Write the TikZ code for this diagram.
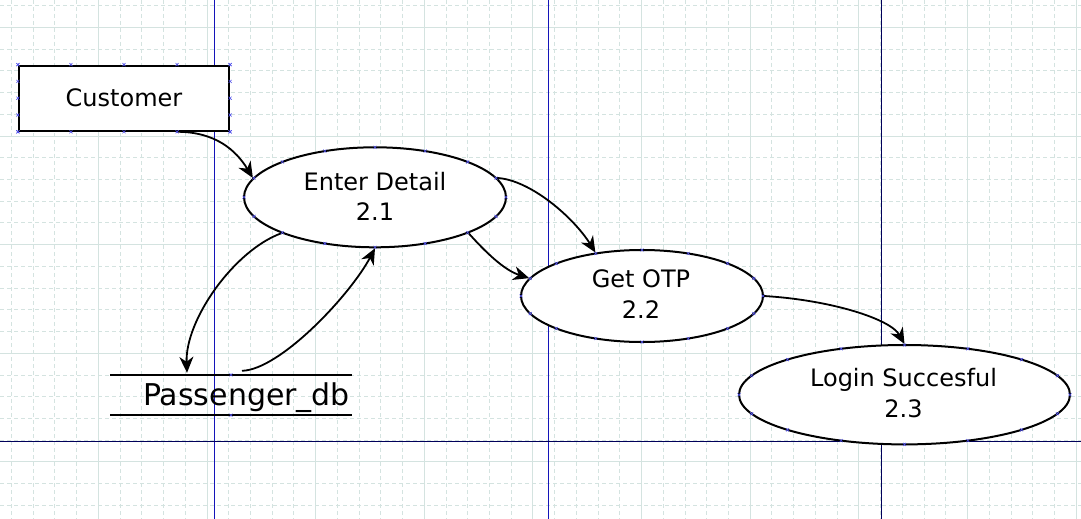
\documentclass[tikz,border=0pt]{standalone}
\usepackage{fontspec}
\setmainfont{DejaVu Sans}
\usetikzlibrary{arrows.meta,calc,shapes.geometric}
\definecolor{gridc}{RGB}{212,227,224}
\definecolor{guideblue}{RGB}{20,20,185}
\definecolor{guidenavy}{RGB}{0,0,90}
\definecolor{mkblue}{RGB}{80,80,235}
\tikzset{
  proc/.style={ellipse, draw, line width=2pt, fill=white, inner sep=0pt},
  extbox/.style={rectangle, draw, line width=2.2pt, fill=white, inner sep=0pt},
  lbl/.style={anchor=base, font=\fontsize{24}{28}\selectfont, inner sep=0pt},
  flow/.style={line width=1.8pt, -{Stealth[length=16pt,width=14pt,inset=5pt]}},
  gridsolid/.style={gridc, line width=0.9pt},
  griddash/.style={gridc, line width=0.9pt, dash pattern=on 4pt off 3pt},
  mkx/.pic={\draw[mkblue,line width=0.6pt] (-1.5,-1.5)--(1.5,1.5) (-1.5,1.5)--(1.5,-1.5);}
}
\begin{document}
\begin{tikzpicture}[x=1pt,y=-1pt]
\useasboundingbox (0,0) rectangle (1081,519);
\fill[white] (0,0) rectangle (1081,519);
% grid
\foreach \k in {0,...,49}{
  \pgfmathsetmacro\xx{11.38+\k*21.73}
  \pgfmathtruncatemacro\m{mod(\k+1,5)}
  \ifnum\m=0 \draw[gridsolid] (\xx,0) -- (\xx,519);
  \else \draw[griddash] (\xx,0) -- (\xx,519); \fi
}
\foreach \k in {0,...,23}{
  \pgfmathsetmacro\yy{5.57+\k*21.73}
  \pgfmathtruncatemacro\m{mod(\k+4,5)}
  \ifnum\m=0 \draw[gridsolid] (0,\yy) -- (1081,\yy);
  \else \draw[griddash] (0,\yy) -- (1081,\yy); \fi
}
% guide lines
\draw[guideblue, line width=1pt] (214,0) -- (214,519) (548,0) -- (548,519);
\draw[guidenavy, line width=1pt] (881,0) -- (881,519) (0,441) -- (1081,441);

% shapes
\node[extbox, minimum width=210pt, minimum height=65pt] (cust) at (124,98.2) {};
\node[proc, minimum width=262pt, minimum height=100pt] (ed) at (375,197.3) {};
\node[proc, minimum width=242pt, minimum height=92pt] (otp) at (642,296) {};
\node[proc, minimum width=331pt, minimum height=99.4pt] (login) at (904.5,394.7) {};
\node[rectangle, inner sep=0pt, minimum width=241pt, minimum height=40pt] (pdb) at (231,395) {};
\draw[line width=1.8pt] (pdb.north west) -- (pdb.north east) (pdb.south west) -- (pdb.south east);

% labels
\node[lbl] (tcust) at (124,106) {Customer};
\node[lbl] (ted1) at (375,190.7) {Enter Detail};
\node[lbl] (ted2) at (375,220.7) {2.1};
\node[lbl] (totp1) at (641,287.3) {Get OTP};
\node[lbl] (totp2) at (641,318.3) {2.2};
\node[lbl] (tlog1) at (903.5,386.7) {Login Succesful};
\node[lbl] (tlog2) at (903.5,417.3) {2.3};
\node[anchor=base west, inner sep=0pt, font=\fontsize{30}{34}\selectfont] (tpdb) at (143,405) {Passenger\_db};

% connectors
\draw[flow] ($(cust.south)!0.5!(cust.south east)$) .. controls +(38,0) and +(-17,-28) .. (ed.171);
\draw[flow] (ed.201) .. controls +(-47,17) and +(-2,-53) .. ($(pdb.north)+(-44,-2)$);
\draw[flow] ($(pdb.north)+(11,-4)$) .. controls +(38,-1) and +(-25,47) .. (ed.south);
\draw[flow] (ed.9) .. controls +(34,2) and +(-21,-34) .. (otp.137.5);
\draw[flow] (ed.339) .. controls +(17,19) and +(-25,-8) .. (otp.171);
\draw[flow] (otp.east) .. controls +(67,4) and +(-14,-25) .. (login.north);

% connection point markers
\foreach \a in {0,22.5,...,337.5}{
  \pic at ($(ed.center)+({131*cos(\a)},{50*sin(\a)})$) {mkx};
  \pic at ($(otp.center)+({121*cos(\a)},{46*sin(\a)})$) {mkx};
  \pic at ($(login.center)+({165.5*cos(\a)},{49.7*sin(\a)})$) {mkx};
}
\foreach \f in {0,0.25,0.5,0.75,1}{
  \pic at ($(cust.north west)!\f!(cust.north east)$) {mkx};
  \pic at ($(cust.south west)!\f!(cust.south east)$) {mkx};
  \pic at ($(cust.north west)!\f!(cust.south west)$) {mkx};
  \pic at ($(cust.north east)!\f!(cust.south east)$) {mkx};
}
\pic at (pdb.north) {mkx};
\pic at (pdb.south) {mkx};
\end{tikzpicture}
\end{document}
